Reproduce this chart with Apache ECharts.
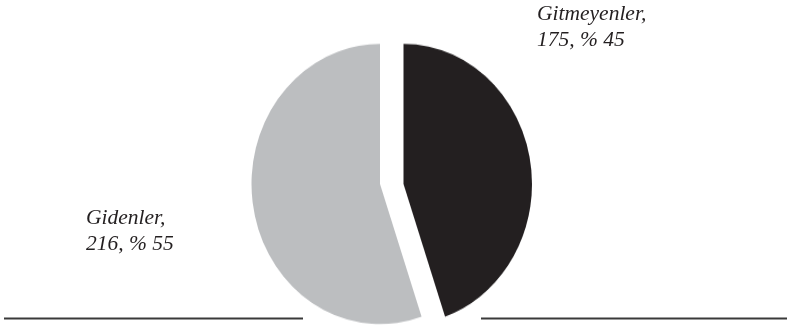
<!DOCTYPE html>
<html>
<head>
<meta charset="utf-8">
<script src="https://cdn.jsdelivr.net/npm/echarts@6/dist/echarts.min.js"></script>
<style>
html,body{margin:0;padding:0;background:#fff;overflow:hidden;}
#wrap{position:relative;width:787px;height:331px;}
#bg{position:absolute;left:0;top:0;width:787px;height:331px;}
#pie{position:absolute;left:0;top:0;width:787px;height:304px;transform:scaleY(1.09);transform-origin:0 0;}
</style>
</head>
<body>
<div id="wrap"><div id="bg"></div><div id="pie"></div></div>
<script>
// Data
const categories = ['Gitmeyenler', 'Gidenler'];
const values = [175, 216];
const percents = [45, 55];
const colors = ['#231f20', '#bcbec0'];

const labelText = categories.map((c, i) => c + ',\n' + values[i] + ', % ' + percents[i]);

const bg = echarts.init(document.getElementById('bg'), null, {renderer: 'canvas'});
bg.setOption({
  animation: false,
  graphic: [
    {type: 'line', shape: {x1: 4, y1: 318.5, x2: 303, y2: 318.5}, style: {stroke: '#3a3a3a', lineWidth: 2}},
    {type: 'line', shape: {x1: 481, y1: 318.5, x2: 787, y2: 318.5}, style: {stroke: '#3a3a3a', lineWidth: 2}},
    {type: 'text', left: 537, top: 1, style: {text: labelText[0], font: 'italic 21.5px "Liberation Serif"', lineHeight: 26, fill: '#231f20'}},
    {type: 'text', left: 86, top: 205, style: {text: labelText[1], font: 'italic 21.5px "Liberation Serif"', lineHeight: 26, fill: '#231f20'}}
  ]
});

// each slice drawn by its own pie series so it can be shifted horizontally
const centersX = [403.5, 380];
const cy = 184 / 1.09;
const pie = echarts.init(document.getElementById('pie'), null, {renderer: 'canvas'});
pie.setOption({
  animation: false,
  series: centersX.map((cx, s) => ({
    type: 'pie',
    silent: true,
    startAngle: 90,
    clockwise: true,
    center: [cx, cy],
    radius: [0, 128.5],
    label: {show: false},
    labelLine: {show: false},
    emphasis: {disabled: true},
    data: categories.map((c, i) => ({
      name: c, value: values[i],
      itemStyle: {color: i === s ? colors[i] : 'rgba(0,0,0,0)'}
    }))
  }))
});
</script>
</body>
</html>
